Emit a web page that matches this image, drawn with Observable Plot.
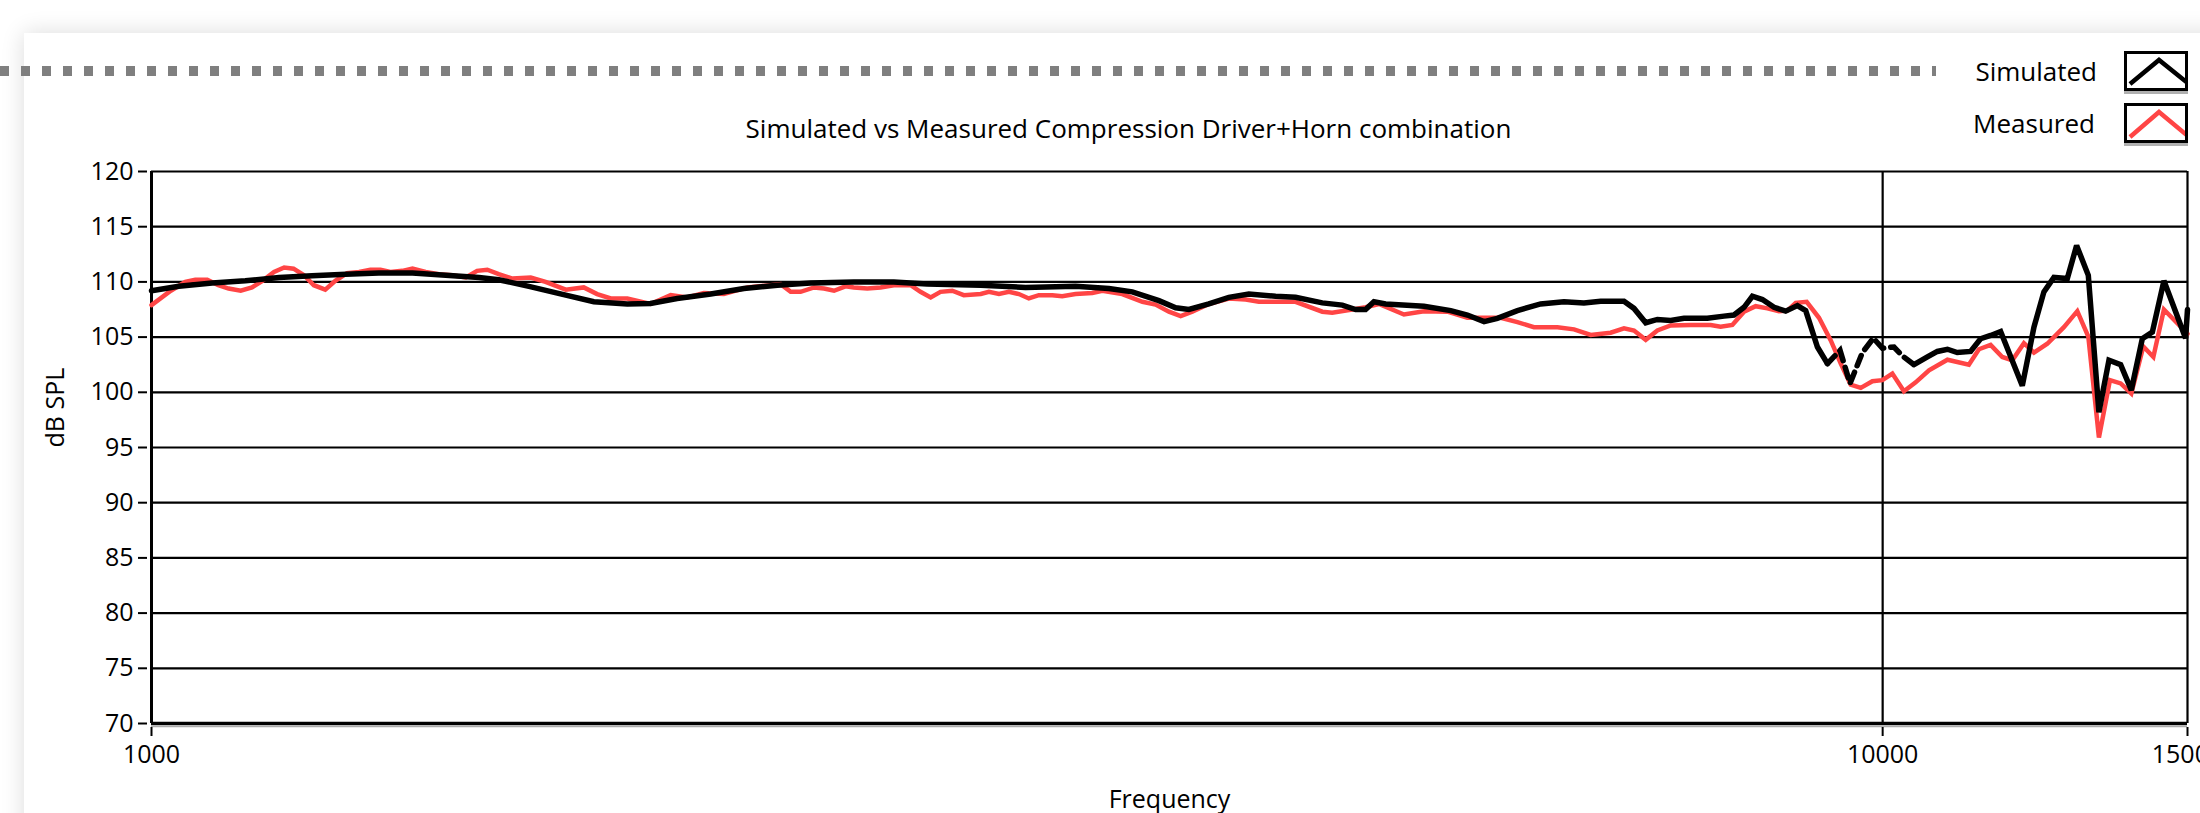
<!DOCTYPE html>
<html>
<head>
<meta charset="utf-8">
<script src="https://cdn.jsdelivr.net/npm/d3@7"></script>
<script src="https://cdn.jsdelivr.net/npm/@observablehq/plot@0.6"></script>
<style>
  html, body { margin: 0; padding: 0; background: #fff; width: 2200px; height: 813px; overflow: hidden; font-family: "Open Sans", sans-serif; }
  #card { position: absolute; left: 24px; top: 33px; width: 2400px; height: 1000px; background: #fff; box-shadow: 0 0 22px rgba(0,0,0,0.14); }
  #dots { position: absolute; left: 0; top: 66px; width: 1936px; height: 10px; background: repeating-linear-gradient(to right, #7f7f7f 0 9px, transparent 9px 21px); }
  #chart { position: absolute; left: 0; top: 0; }
  .leg { position: absolute; font-size: 26px; line-height: 34px; color: #000; text-align: right; width: 200px; }
  .legbox { position: absolute; left: 2124px; width: 64px; height: 40px; border: 3px solid #000; box-sizing: border-box; background: #fff; box-shadow: 0 3px 0 #b0b0b0; overflow: hidden; }
</style>
</head>
<body>
<div id="card"></div>
<div id="dots"></div>
<div id="chart"></div>
<div class="leg" style="left:1897px; top:54px;">Simulated</div>
<div class="leg" style="left:1895px; top:106px;">Measured</div>
<div class="legbox" style="top:51px;"><svg width="64" height="40"><polyline points="3,30 32,6 62,30" fill="none" stroke="#000" stroke-width="4.5"/></svg></div>
<div class="legbox" style="top:103px;"><svg width="64" height="40"><polyline points="3,31 32,6 62,31" fill="none" stroke="#ff4545" stroke-width="4.5"/></svg></div>
<script>
// ---- data ----
const title = "Simulated vs Measured Compression Driver+Horn combination";
const xLabel = "Frequency";
const yLabel = "dB SPL";
const xTicks = [1000, 10000, 15000];
const yTicks = [70, 75, 80, 85, 90, 95, 100, 105, 110, 115, 120];

const measuredFreq = [1000,1026,1046,1060,1077,1093,1108,1126,1143,1159,1177,1193,1208,1225,1241,1260,1277,1297,1318,1338,1356,1374,1396,1415,1440,1466,1492,1519,1542,1563,1587,1616,1656,1689,1735,
 1777,1809,1842,1883,1942,1995,2039,2085,2141,2209,2278,2309,2340,2371,2414,2446,2479,2517,2545,2591,2637,2684,2745,2781,2819,2856,2901,2946,3013,
 3046,3087,3128,3170,3212,3255,3314,3358,3418,3495,3542,3637,3736,3802,3870,3931,3992,4081,4191,4286,4362,4500,4580,4746,4809,4939,5027,5117,
 5290,5433,5605,5756,5885,6017,6152,6289,6488,6633,6782,6964,7089,7184,7297,7411,7543,7747,7955,8061,8188,8316,8446,8579,8712,8810,8908,9039,
 9188,9333,9458,9584,9713,9864,9996,10130,10287,10449,10636,10900,11215,11366,11544,11725,11882,12067,12229,12448,12726,12955,13146,13333,13530,13724,13920,14144,14334,14537,15000];
const measuredDb = [107.9,109.2,110.0,110.2,110.2,109.7,109.4,109.2,109.5,110.1,110.9,111.3,111.2,110.6,109.7,109.3,110.1,110.8,110.9,111.1,111.1,110.9,111.0,111.2,110.9,110.7,110.6,110.4,111.0,111.1,110.7,110.3,110.4,110.0,109.3,
 109.5,108.9,108.5,108.5,108.0,108.8,108.6,109.0,108.9,109.5,109.7,109.8,109.1,109.1,109.5,109.4,109.2,109.6,109.5,109.4,109.5,109.7,109.7,109.1,108.6,109.1,109.2,108.8,108.9,
 109.1,108.9,109.1,108.9,108.5,108.8,108.8,108.7,108.9,109.0,109.2,108.9,108.2,107.95,107.3,106.9,107.3,108.0,108.5,108.4,108.2,108.2,108.2,107.3,107.2,107.5,107.7,108.0,
 107.05,107.35,107.3,106.75,106.75,106.75,106.35,105.9,105.9,105.7,105.2,105.4,105.8,105.6,104.75,105.6,106.05,106.1,106.1,105.95,106.1,107.3,107.8,107.6,107.35,107.4,108.1,108.2,
 106.75,104.7,102.6,100.7,100.4,101.0,101.1,101.7,100.1,100.9,102.0,102.95,102.5,103.9,104.3,103.2,102.9,104.45,103.6,104.4,105.9,107.35,105.05,95.9,101.1,100.8,99.9,104.15,103.2,107.5,105.3];

const simulatedFreq = [1000,1037,1084,1133,1185,1238,1295,1353,1415,1479,1546,1587,1652,1735,
 1801,1883,1942,2012,2104,2199,2299,2403,2545,2684,2806,3013,
 3198,3418,3573,3686,3819,3905,3974,4081,4191,4304,4460,4580,4746,4874,4961,5027,5083,5163,
 5433,5630,5756,5885,5990,6152,6345,6545,6721,6872,7089,7184,7297,7411,7543,7678,7920,8097,8206,8316,8409,8522,8655,8790,8928,9027,
 9169,9292,9449,9575,9734,9877,9996,10152,10266,10425,10613,10755,10900,11043,11241,11391,11544,11699,12041,12229,12392,12558,12784,12943,13146,13333,13512,13724,13920,14125,14315,14537,14962,15000];
const simulatedDb = [109.2,109.6,109.9,110.1,110.4,110.55,110.7,110.8,110.8,110.6,110.4,110.2,109.6,108.8,
 108.2,108.0,108.05,108.5,108.9,109.4,109.7,109.9,110.0,110.0,109.8,109.7,
 109.5,109.6,109.4,109.1,108.3,107.65,107.5,108.0,108.6,108.9,108.7,108.6,108.1,107.9,107.5,107.5,108.2,108.0,
 107.8,107.4,107.0,106.4,106.7,107.4,108.0,108.2,108.1,108.25,108.25,107.6,106.3,106.6,106.5,106.7,106.7,106.9,107.0,107.7,108.7,108.4,107.7,107.35,107.85,107.4,
 104.1,102.6,103.8,100.8,103.6,104.9,104.0,104.1,103.3,102.5,103.2,103.7,103.9,103.6,103.7,104.85,105.15,105.5,100.6,105.9,109.1,110.4,110.3,113.3,110.6,98.2,102.9,102.5,100.2,104.85,105.45,110.1,104.9,107.5];

// stretch of the simulated curve that is drawn broken in the reference
const simDashStart = 9292;
const simDashEnd = 10425;

// ---- build tables ----
const measured = measuredFreq.map((f, i) => ({f, db: measuredDb[i]}));
const simulated = simulatedFreq.map((f, i) => ({f, db: simulatedDb[i]}));
const simA = simulated.filter(d => d.f <= simDashStart);
const simB = simulated.filter(d => d.f >= simDashStart && d.f <= simDashEnd);
const simC = simulated.filter(d => d.f >= simDashEnd);

const font = "'Open Sans', sans-serif";

const chart = Plot.plot({
  width: 2200,
  height: 813,
  marginTop: 171,
  marginBottom: 90,
  marginLeft: 151,
  marginRight: 13,
  style: {background: "transparent", fontFamily: font, fontSize: "25px", color: "#000"},
  x: {type: "log", domain: [1000, 15000]},
  y: {domain: [70, 120]},
  marks: [
    Plot.ruleY(yTicks, {stroke: "#000", strokeWidth: 2.2}),
    Plot.ruleX([10000, 15000], {stroke: "#000", strokeWidth: 2.2}),
    Plot.ruleX([1000], {stroke: "#000", strokeWidth: 3}),
    Plot.ruleY([70], {stroke: "#000", strokeWidth: 3.5}),
    Plot.ruleY([70], {stroke: "#aaa", strokeWidth: 1.5, dy: 3}),
    Plot.axisY({ticks: yTicks, tickSize: 9, tickPadding: 5, dx: -4, strokeWidth: 2, fontSize: 25, label: null}),
    Plot.axisX({ticks: xTicks, tickFormat: d => String(d), tickSize: 9, tickPadding: 9, dy: 4, strokeWidth: 2, fontSize: 25, label: null}),
    Plot.line(measured, {x: "f", y: "db", stroke: "#ff4545", strokeWidth: 4.5, strokeLinejoin: "miter", strokeMiterlimit: 3}),
    Plot.line(simA, {x: "f", y: "db", stroke: "#000", strokeWidth: 5.5, strokeLinejoin: "miter", strokeMiterlimit: 3}),
    Plot.line(simB, {x: "f", y: "db", stroke: "#000", strokeWidth: 5.5, strokeDasharray: "11,7", strokeLinejoin: "miter", strokeMiterlimit: 3}),
    Plot.line(simC, {x: "f", y: "db", stroke: "#000", strokeWidth: 5.5, strokeLinejoin: "miter", strokeMiterlimit: 3}),
    Plot.text([title], {frameAnchor: "top", dx: -41, dy: -52, fontSize: 26, fill: "#000"}),
    Plot.text([xLabel], {frameAnchor: "bottom", dy: 84, fontSize: 25, fill: "#000"}),
    Plot.text([yLabel], {frameAnchor: "left", dx: -96, rotate: -90, fontSize: 25, fill: "#000"})
  ]
});
document.getElementById("chart").appendChild(chart);
</script>
</body>
</html>
